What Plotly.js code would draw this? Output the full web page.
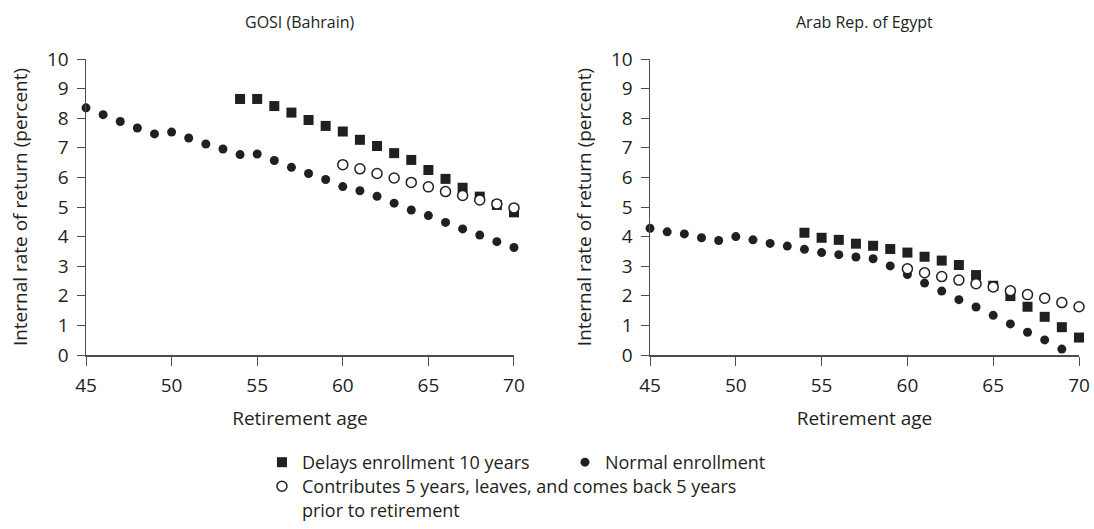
<!DOCTYPE html>
<html>
<head>
<meta charset="utf-8">
<script src="https://cdn.plot.ly/plotly-3.0.1.min.js"></script>
<style>html,body{margin:0;padding:0;background:#fff;}#chart{width:1094px;height:529px;}</style>
</head>
<body>
<div id="chart"></div>
<script>
// Retirement ages
const agesAll = [45,46,47,48,49,50,51,52,53,54,55,56,57,58,59,60,61,62,63,64,65,66,67,68,69,70];
const agesDelay = [54,55,56,57,58,59,60,61,62,63,64,65,66,67,68,69,70];
const agesBack = [60,61,62,63,64,65,66,67,68,69,70];
const agesEgyptNormal = [45,46,47,48,49,50,51,52,53,54,55,56,57,58,59,60,61,62,63,64,65,66,67,68,69];

// GOSI (Bahrain)
const bahrainNormal = [8.35,8.12,7.89,7.67,7.47,7.53,7.33,7.13,6.96,6.77,6.79,6.57,6.34,6.13,5.93,5.69,5.55,5.36,5.13,4.90,4.71,4.48,4.26,4.05,3.83,3.63];
const bahrainDelay = [8.65,8.65,8.41,8.19,7.94,7.74,7.55,7.27,7.06,6.82,6.59,6.25,5.95,5.65,5.35,5.07,4.82];
const bahrainBack = [6.43,6.29,6.13,5.98,5.83,5.68,5.52,5.39,5.24,5.10,4.97];

// Arab Rep. of Egypt
const egyptNormal = [4.28,4.16,4.09,3.96,3.87,4.00,3.89,3.77,3.68,3.57,3.46,3.39,3.31,3.25,3.01,2.72,2.43,2.16,1.87,1.62,1.34,1.05,0.77,0.51,0.20];
const egyptDelay = [4.13,3.96,3.89,3.76,3.69,3.58,3.46,3.32,3.19,3.04,2.70,2.34,1.99,1.63,1.29,0.94,0.59];
const egyptBack = [2.91,2.78,2.65,2.53,2.41,2.30,2.17,2.04,1.92,1.77,1.63];

const seriesNames = ["Delays enrollment 10 years", "Normal enrollment",
  "Contributes 5 years, leaves, and comes back 5 years<br>prior to retirement"];
const panelTitles = ["GOSI (Bahrain)", "Arab Rep. of Egypt"];
const xTitle = "Retirement age";
const yTitle = "Internal rate of return (percent)";

const INK = '#231f20';
const AXC = '#4d4d4f';
const FONT = '"Open Sans", "Noto Sans", sans-serif';

const sq = {symbol:'square', size:10, color:INK};
const dot = {symbol:'circle', size:9, color:INK};
const ring = {symbol:'circle', size:10, color:'#ffffff', line:{color:INK, width:1.5}};

function tr(x, y, marker, name, xa, ya, show, legend) {
  return {type:'scatter', mode:'markers', x:x, y:y, marker:marker, name:name,
    xaxis:xa, yaxis:ya, showlegend:show, legend:legend, cliponaxis:false, hoverinfo:'x+y'};
}

const data = [
  tr(agesDelay, bahrainDelay, sq, seriesNames[0], 'x', 'y', true, 'legend'),
  tr(agesAll, bahrainNormal, dot, seriesNames[1], 'x', 'y', true, 'legend'),
  tr(agesBack, bahrainBack, ring, seriesNames[2], 'x', 'y', true, 'legend2'),
  tr(agesDelay, egyptDelay, sq, seriesNames[0], 'x2', 'y2', false, 'legend'),
  tr(agesEgyptNormal, egyptNormal, dot, seriesNames[1], 'x2', 'y2', false, 'legend'),
  tr(agesBack, egyptBack, ring, seriesNames[2], 'x2', 'y2', false, 'legend2')
];

function xax(domain, anchor) {
  return {domain:domain, anchor:anchor, range:[45,70], dtick:5, tick0:45,
    showgrid:false, zeroline:false, showline:true, linecolor:AXC, linewidth:1.5,
    ticks:'outside', ticklen:9, tickwidth:1, tickcolor:AXC, ticklabelstandoff:4,
    tickfont:{size:19, color:INK, family:FONT},
    title:{text:xTitle, font:{size:19, color:INK, family:FONT}, standoff:14}};
}
function yax(anchor) {
  return {anchor:anchor, range:[0,10], dtick:1, tick0:0,
    showgrid:false, zeroline:false, showline:true, linecolor:AXC, linewidth:1.5,
    ticks:'outside', ticklen:8, tickwidth:1, tickcolor:AXC, ticklabelstandoff:4,
    tickfont:{size:19, color:INK, family:FONT},
    title:{text:yTitle, font:{size:19, color:INK, family:FONT}, standoff:14}};
}

const layout = {
  width:1094, height:529,
  margin:{l:86, r:15, t:59, b:174, autoexpand:false},
  paper_bgcolor:'#ffffff', plot_bgcolor:'#ffffff',
  font:{family:FONT, color:INK},
  xaxis: xax([0, 0.431], 'y'),
  yaxis: yax('x'),
  xaxis2: xax([0.568, 1], 'y2'),
  yaxis2: yax('x2'),
  annotations:[
    {text:panelTitles[0], xref:'x domain', yref:'paper', x:0.5, y:1.125, xanchor:'center', yanchor:'middle', showarrow:false, font:{size:16, color:INK, family:FONT}},
    {text:panelTitles[1], xref:'x2 domain', yref:'paper', x:0.5, y:1.125, xanchor:'center', yanchor:'middle', showarrow:false, font:{size:16, color:INK, family:FONT}}
  ],
  legend:{orientation:'h', x:0.1772, xanchor:'left', yref:'container', y:0.1607, yanchor:'top',
    entrywidthmode:'pixels', entrywidth:258, itemwidth:30,
    font:{size:18, color:INK, family:FONT}, bgcolor:'rgba(0,0,0,0)', itemclick:false, itemdoubleclick:false},
  legend2:{orientation:'h', x:0.1772, xanchor:'left', yref:'container', y:0.1153, yanchor:'top', valign:'top', itemwidth:30,
    font:{size:18, color:INK, family:FONT}, bgcolor:'rgba(0,0,0,0)', itemclick:false, itemdoubleclick:false},
  showlegend:true
};

Plotly.newPlot('chart', data, layout, {displayModeBar:false, staticPlot:true});
</script>
</body>
</html>
